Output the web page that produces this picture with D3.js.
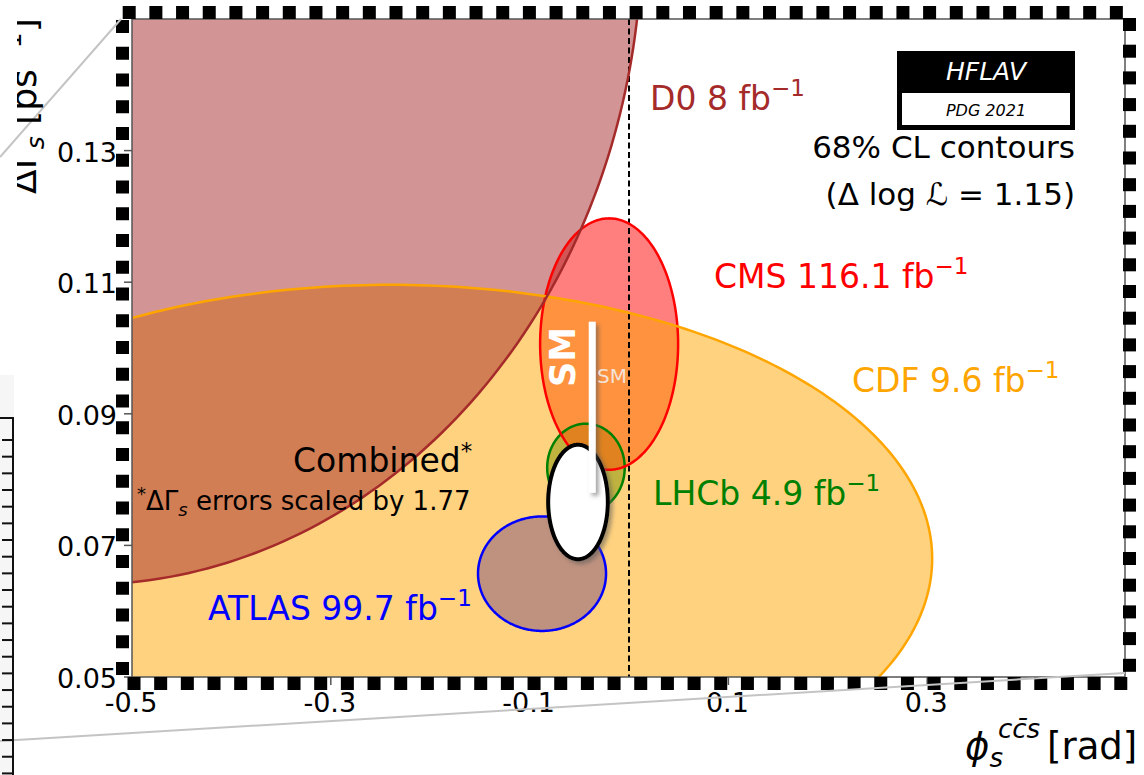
<!DOCTYPE html>
<html><head><meta charset="utf-8">
<script src="https://cdn.jsdelivr.net/npm/d3@7"></script>
<style>
html,body{margin:0;padding:0;background:#fff;}
svg{display:block;font-family:"DejaVu Sans",sans-serif;}
</style></head><body>
<svg id="chart" width="1144" height="775"></svg>
<script>
// phi_s (c cbar s) versus Delta Gamma_s: 68% CL contours per experiment, HFLAV PDG 2021

// measurement contours (centre, half extents, correlation)
const experiments  = ["ATLAS", "LHCb", "CMS", "CDF", "D0"];
const luminosity   = ["99.7", "4.9", "116.1", "9.6", "8"];
const phiCentre    = [-0.0875, -0.0433, -0.0200, -0.2400, -0.5500];
const dgCentre     = [0.0657, 0.0818, 0.1006, 0.0680, 0.1630];
const phiHalfWidth = [0.0644, 0.0390, 0.0694, 0.5450, 0.5630];
const dgHalfHeight = [0.0087, 0.0067, 0.0191, 0.0416, 0.0990];
const correlation  = [0, 0, 0, 0, 0];
const contourColours = ["#0000ff", "#008000", "#ff0000", "#ffa500", "#a52a2a"];

// world average (Delta Gamma_s errors scaled by 1.77)
const combinedCentre = [-0.0513, 0.0766];
const combinedHalf   = [0.0300, 0.0087];
const scaleFactor    = "1.77";

// Standard Model prediction
const smPhi = -0.037;
const smDg = [0.078, 0.104];

const xTicks = [-0.5, -0.3, -0.1, 0.1, 0.3];
const yTicks = [0.05, 0.07, 0.09, 0.11, 0.13];

const svg = d3.select("#chart");
const x = d3.scaleLinear().domain([-0.5, 0.5]).range([132, 1126]);
const y = d3.scaleLinear().domain([0.05, 0.15]).range([677, 19]);

const defs = svg.append("defs");
defs.append("clipPath").attr("id", "plotClip")
  .append("rect").attr("x", 132).attr("y", 19).attr("width", 994).attr("height", 658);
defs.append("clipPath").attr("id", "labelClip")
  .append("rect").attr("x", 17).attr("y", 0).attr("width", 100).attr("height", 300);
const shadow = defs.append("filter").attr("id", "shadow")
  .attr("filterUnits", "userSpaceOnUse")
  .attr("x", 0).attr("y", 0).attr("width", 1144).attr("height", 775);
shadow.append("feDropShadow").attr("dx", 3).attr("dy", 3).attr("stdDeviation", 2)
  .attr("flood-color", "#555").attr("flood-opacity", 0.55);

// faint panel of the surrounding figure
svg.append("rect").attr("x", 0).attr("y", 375).attr("width", 14).attr("height", 400).attr("fill", "#f6f6f6");

function ellipsePath(cx, cy, hx, hy, rho) {
  const n = 360, s = Math.sqrt(1 - rho * rho);
  const pts = d3.range(n).map(i => {
    const t = 2 * Math.PI * i / n;
    return [x(cx + hx * Math.cos(t)), y(cy + hy * (rho * Math.cos(t) + s * Math.sin(t)))];
  });
  return d3.line().curve(d3.curveLinearClosed)(pts);
}

const plot = svg.append("g").attr("clip-path", "url(#plotClip)");
plot.append("rect").attr("x", 132).attr("y", 19).attr("width", 994).attr("height", 658).attr("fill", "#fff");

const idx = d3.range(experiments.length);
// translucent fills, drawn in list order
plot.selectAll("path.fill").data(idx).join("path")
  .attr("class", "fill")
  .attr("d", i => ellipsePath(phiCentre[i], dgCentre[i], phiHalfWidth[i], dgHalfHeight[i], correlation[i]))
  .attr("fill", i => contourColours[i]).attr("fill-opacity", 0.5).attr("stroke", "none");

// phi_s = 0 reference
plot.append("line").attr("x1", x(0)).attr("x2", x(0)).attr("y1", 19).attr("y2", 677)
  .attr("stroke", "#000").attr("stroke-width", 2).attr("stroke-dasharray", "6,3.5");

// contour outlines
plot.selectAll("path.edge").data(idx).join("path")
  .attr("class", "edge")
  .attr("d", i => ellipsePath(phiCentre[i], dgCentre[i], phiHalfWidth[i], dgHalfHeight[i], correlation[i]))
  .attr("fill", "none").attr("stroke", i => contourColours[i]).attr("stroke-width", 2.5);

// combined contour
plot.append("path")
  .attr("d", ellipsePath(combinedCentre[0], combinedCentre[1], combinedHalf[0], combinedHalf[1], 0))
  .attr("fill", "#fff").attr("stroke", "#000").attr("stroke-width", 4).attr("filter", "url(#shadow)");

// SM band
plot.append("rect").attr("x", x(smPhi) - 3.5).attr("width", 7)
  .attr("y", y(smDg[1])).attr("height", y(smDg[0]) - y(smDg[1]))
  .attr("fill", "#fff").attr("filter", "url(#shadow)");
plot.append("text").attr("transform", "translate(575,357) rotate(-90)")
  .attr("text-anchor", "middle").attr("font-size", 35).attr("font-weight", "bold").attr("fill", "#fff").text("SM");
plot.append("text").attr("x", 597).attr("y", 383).attr("font-size", 20).attr("fill", "#f2f2f2")
  .attr("fill-opacity", 0.85).text("SM");

// experiment labels
const labelPos = {ATLAS: [208, 620], LHCb: [653, 505], CMS: [714, 288], CDF: [852, 392], D0: [650, 110]};
idx.forEach(i => {
  const p = labelPos[experiments[i]];
  const t = plot.append("text").attr("x", p[0]).attr("y", p[1]).attr("font-size", 33).attr("fill", contourColours[i]);
  t.append("tspan").text(experiments[i] + " " + luminosity[i] + " fb");
  t.append("tspan").attr("font-size", 23).attr("dy", -14).text("\u22121");
});

// combined labels
const comb = plot.append("text").attr("x", 293).attr("y", 472).attr("font-size", 33).attr("fill", "#000");
comb.append("tspan").text("Combined");
comb.append("tspan").attr("font-size", 23).attr("dy", -13).text("*");
const note = plot.append("text").attr("x", 137).attr("y", 510).attr("font-size", 26).attr("fill", "#000");
note.append("tspan").attr("font-size", 18).attr("dy", -10).text("*");
note.append("tspan").attr("dy", 10).text("\u0394\u0393");
note.append("tspan").attr("font-size", 18).attr("font-style", "italic").attr("dy", 6).text("s");
note.append("tspan").attr("dy", -6).text(" errors scaled by " + scaleFactor);

// HFLAV logo
plot.append("rect").attr("x", 897).attr("y", 51).attr("width", 178).attr("height", 79).attr("fill", "#000");
plot.append("rect").attr("x", 902).attr("y", 93).attr("width", 168).attr("height", 32).attr("fill", "#fff");
plot.append("text").attr("x", 986).attr("y", 80).attr("text-anchor", "middle").attr("font-size", 25)
  .attr("font-style", "italic").attr("fill", "#fff").text("HFLAV");
plot.append("text").attr("x", 986).attr("y", 116).attr("text-anchor", "middle").attr("font-size", 16)
  .attr("font-style", "italic").attr("fill", "#000").text("PDG 2021");
plot.append("text").attr("x", 1075).attr("y", 158).attr("text-anchor", "end").attr("font-size", 31)
  .attr("fill", "#000").text("68% CL contours");
plot.append("text").attr("x", 1075).attr("y", 205).attr("text-anchor", "end").attr("font-size", 31)
  .attr("fill", "#000").text("(\u0394 log \u2112 = 1.15)");

// frame
svg.append("rect").attr("x", 132).attr("y", 19).attr("width", 993).attr("height", 658)
  .attr("fill", "none").attr("stroke", "#555").attr("stroke-width", 1.5);

// ticks
svg.selectAll("line.yt").data(yTicks).join("line").attr("class", "yt")
  .attr("x1", 124).attr("x2", 132).attr("y1", d => y(d)).attr("y2", d => y(d))
  .attr("stroke", "#555").attr("stroke-width", 1.5);
svg.selectAll("line.xt").data(xTicks).join("line").attr("class", "xt")
  .attr("x1", d => x(d)).attr("x2", d => x(d)).attr("y1", 677).attr("y2", 685)
  .attr("stroke", "#555").attr("stroke-width", 1.5);

// chequered border
const sq = 13;
const topRow = d3.range(38).map(k => [122.7 + k * 26.68, 6]);
const bottomRow = d3.range(38).map(k => [127.5 + k * 26.67, 677]);
const leftCol = d3.range(25).map(k => [116, 20 + k * 26.75]);
const rightCol = d3.range(25).map(k => [1123, 18 + k * 26.7]);
svg.selectAll("rect.chk").data(topRow.concat(bottomRow, leftCol, rightCol)).join("rect")
  .attr("class", "chk").attr("x", d => d[0]).attr("y", d => d[1]).attr("width", sq).attr("height", sq)
  .attr("fill", "#000");

// tick labels (plain hyphen for negatives)
const tickFmt = f => d => d3.format(f)(d).replace("\u2212", "-");
svg.selectAll("text.yl").data(yTicks).join("text").attr("class", "yl")
  .attr("x", 117).attr("y", d => y(d) + 11).attr("text-anchor", "end").attr("font-size", 27)
  .attr("fill", "#000").text(tickFmt(".2f"));
svg.selectAll("text.xl").data(xTicks).join("text").attr("class", "xl")
  .attr("x", d => x(d) - 1).attr("y", 712).attr("text-anchor", "middle").attr("font-size", 27)
  .attr("fill", "#000").text(tickFmt(".1f"));

// zoom connector lines
svg.append("line").attr("x1", 121).attr("y1", 19).attr("x2", 0).attr("y2", 157)
  .attr("stroke", "#c4c4c4").attr("stroke-width", 2);
svg.append("line").attr("x1", 0).attr("y1", 741).attr("x2", 1125).attr("y2", 673)
  .attr("stroke", "#c4c4c4").attr("stroke-width", 2);

// outer axis ruler
svg.append("line").attr("x1", 13).attr("x2", 13).attr("y1", 418).attr("y2", 775).attr("stroke", "#111").attr("stroke-width", 2);
svg.append("line").attr("x1", 0).attr("x2", 14).attr("y1", 418).attr("y2", 418).attr("stroke", "#111").attr("stroke-width", 2);
svg.selectAll("line.rt").data(d3.range(21)).join("line").attr("class", "rt")
  .attr("x1", 2).attr("x2", 13).attr("y1", k => 440 + k * 16.67).attr("y2", k => 440 + k * 16.67)
  .attr("stroke", "#111").attr("stroke-width", 2);

// y axis title
const yl = svg.append("g").attr("clip-path", "url(#labelClip)")
  .append("text").attr("transform", "translate(36,194) rotate(-90)").attr("font-size", 36).attr("fill", "#000");
yl.append("tspan").text("\u0394\u0393");
yl.append("tspan").attr("font-size", 25).attr("font-style", "italic").attr("dy", 8).text("s");
yl.append("tspan").attr("dy", -8).text(" [ps");
yl.append("tspan").attr("font-size", 25).attr("dy", -15).text("\u22121");
yl.append("tspan").attr("dy", 15).text("]");

// x axis title
const xlab = svg.append("text").attr("x", 965).attr("y", 759).attr("font-size", 37).attr("fill", "#000");
xlab.append("tspan").attr("font-style", "italic").text("\u03d5");
xlab.append("tspan").attr("font-style", "italic").attr("font-size", 26).attr("dy", 8).text("s");
xlab.append("tspan").attr("font-style", "italic").attr("font-size", 26).attr("x", 998).attr("y", 738).text("cc\u0304s");
xlab.append("tspan").attr("x", 1047).attr("y", 759).text("[rad]");
</script>
</body></html>
